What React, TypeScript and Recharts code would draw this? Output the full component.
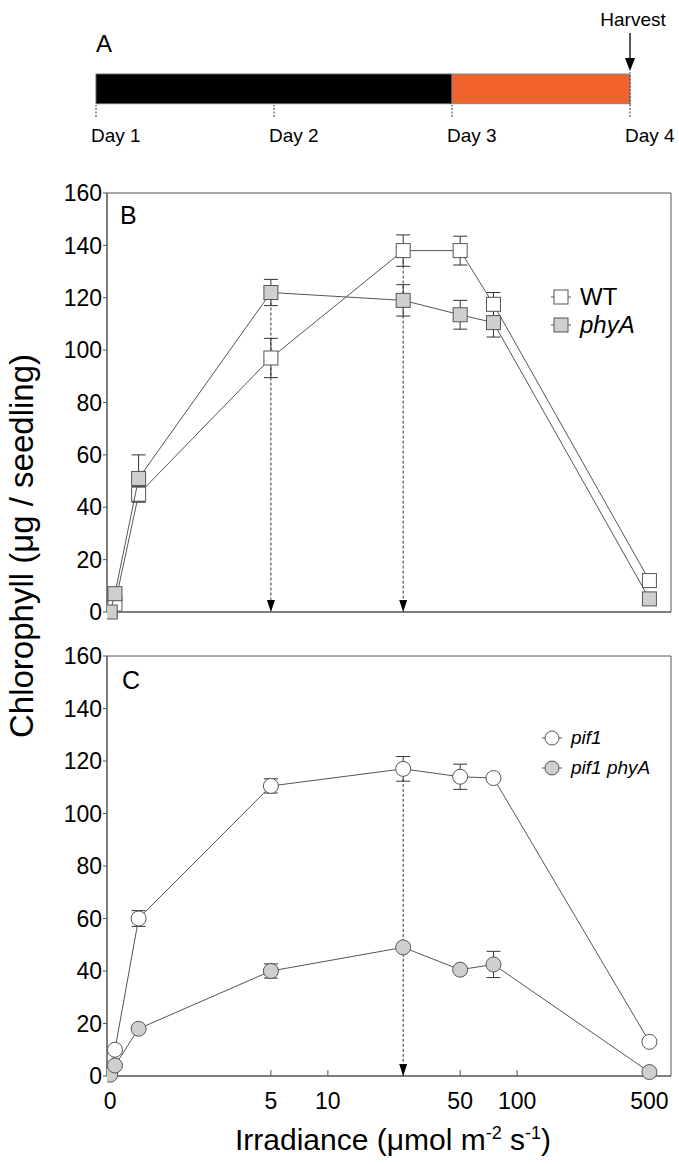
import React from "react"
import {
  Bar,
  BarChart,
  ErrorBar,
  ReferenceArea,
  ReferenceDot,
  ReferenceLine,
  Scatter,
  ScatterChart,
  XAxis,
  YAxis,
} from "recharts"

const FONT = "'Liberation Sans', Arial, sans-serif"
const INK = "#555"
const GREY = "#cfcfcf"

// Panel A: light schedule
const dayLabels = ["Day 1", "Day 2", "Day 3", "Day 4"]
const dayTicks = [0, 1, 2, 3]
const darkDays = 2
const lightDays = 1
const harvestDay = 3

// irradiance, µmol m-2 s-1
const irradiance = [0, 0.1, 1, 5, 25, 50, 75, 500]
const xTickValues = [0, 5, 10, 50, 100, 500]
const yTicks = [0, 20, 40, 60, 80, 100, 120, 140, 160]

// Panel B
const wtMean = [1, 3, 45, 97, 138, 138, 117.5, 12]
const wtErr = [0, 0, 3, 7.5, 6, 5.5, 4.5, 0]
const phyAMean = [0, 7, 51, 122, 119, 113.5, 110.5, 5]
const phyAErr = [0, 0, 9, 5, 6, 5.5, 5.5, 0]

// Panel C
const pif1Mean = [1, 10, 60, 110.5, 117, 114, 113.5, 13]
const pif1Err = [0, 0, 3, 2.7, 4.7, 4.8, 0, 0]
const pif1PhyAMean = [0.5, 4, 18, 40, 49, 40.5, 42.5, 1.5]
const pif1PhyAErr = [0, 0, 0, 2.7, 0, 0, 5, 0]

// axis is log10 above 1, with a short linear stretch for the dark / very low points
const toAxis = (v: number) => (v >= 1 ? Math.log10(v) : -0.15 + 0.25 * v)
const xDomain: [number, number] = [-0.167, 2.813]
const xTicks = xTickValues.map(toAxis)
const xTickLabel = (v: number) => {
  const i = xTicks.findIndex((t) => Math.abs(t - v) < 1e-9)
  return i >= 0 ? String(xTickValues[i]) : ""
}

const rows = (means: number[], errs: number[]) =>
  irradiance.map((v, i) => ({ x: toAxis(v), y: means[i], err: errs[i] }))

const squareShape = (fill: string) => (p: any) => (
  <rect x={p.cx - 7} y={p.cy - 7} width={14} height={14} fill={fill} stroke={INK} strokeWidth={1} />
)
const circleShape = (fill: string) => (p: any) => (
  <circle cx={p.cx} cy={p.cy} r={7.5} fill={fill} stroke={INK} strokeWidth={1} />
)
const arrowHead = (p: any) => (
  <polygon points={`${p.cx - 4},${p.cy - 12} ${p.cx + 4},${p.cy - 12} ${p.cx},${p.cy}`} fill="#000" />
)

type Series = { name: string; data: any[]; fill: string; kind: "square" | "circle" }

function LegendBox({
  series,
  fontSize,
  rowH,
  left,
  top,
}: {
  series: Series[]
  fontSize: number
  rowH: number
  left: number
  top: number
}) {
  return (
    <div style={{ position: "absolute", left, top }}>
      {series.map((s) => (
        <div key={s.name} style={{ display: "flex", alignItems: "center", height: rowH }}>
          <svg width={22} height={18}>
            <line x1={1} y1={9} x2={21} y2={9} stroke={INK} />
            {s.kind === "square" ? (
              <rect x={4} y={2} width={14} height={14} fill={s.fill} stroke={INK} />
            ) : (
              <circle cx={11} cy={9} r={7} fill={s.fill} stroke={INK} />
            )}
          </svg>
          <span
            style={{
              marginLeft: 8,
              fontSize,
              lineHeight: `${rowH}px`,
              fontStyle: s.name === "WT" ? "normal" : "italic",
            }}
          >
            {s.name}
          </span>
        </div>
      ))}
    </div>
  )
}

function Timeline() {
  return (
    <div style={{ position: "absolute", left: 0, top: 0 }}>
      <div style={{ position: "absolute", left: 96, top: 30, fontSize: 24 }}>A</div>
      <BarChart
        width={679}
        height={150}
        layout="vertical"
        data={[{ row: "light", dark: darkDays, light: lightDays }]}
        margin={{ top: 72, right: 49, bottom: 0, left: 96 }}
        barCategoryGap={0}
      >
        <XAxis
          type="number"
          domain={[0, 3]}
          ticks={dayTicks}
          axisLine={false}
          tickSize={12}
          tickMargin={12}
          height={45}
          tickLine={{ stroke: "#333", strokeDasharray: "2 1.5" }}
          tick={(p: any) => (
            <text x={p.x - 5} y={p.y} dy="0.71em" textAnchor="start" fontSize={19} fill="#000">
              {dayLabels[dayTicks.indexOf(p.payload.value)]}
            </text>
          )}
        />
        <YAxis type="category" dataKey="row" hide width={0} />
        <Bar dataKey="dark" stackId="t" fill="#000" stroke="#666" barSize={33} isAnimationActive={false} />
        <Bar dataKey="light" stackId="t" fill="#f1632d" stroke="#888" barSize={33} isAnimationActive={false} />
        <ReferenceLine
          x={harvestDay}
          stroke="#333"
          strokeDasharray="2 1.5"
          label={(p: any) => {
            const vb = p.viewBox
            return (
              <g>
                <text x={vb.x + 3} y={vb.y - 46} textAnchor="middle" fontSize={19} fill="#000">
                  Harvest
                </text>
                <line x1={vb.x} y1={vb.y - 39} x2={vb.x} y2={vb.y - 12} stroke="#000" strokeWidth={1.3} />
                <polygon points={`${vb.x - 5},${vb.y - 14} ${vb.x + 5},${vb.y - 14} ${vb.x},${vb.y - 1}`} fill="#000" />
              </g>
            )
          }}
        />
      </BarChart>
    </div>
  )
}

function Panel({
  top,
  height,
  bottom,
  xAxisHeight,
  series,
  arrows,
  label,
  labelOffset,
  showXLabels,
}: {
  top: number
  height: number
  bottom: number
  xAxisHeight: number
  series: Series[]
  arrows: { x: number; from: number }[]
  label: string
  labelOffset: number
  showXLabels: boolean
}) {
  const pad = 16
  return (
    <div style={{ position: "absolute", left: 0, top: top - pad }}>
      <ScatterChart width={679} height={height + pad} margin={{ top: pad, right: 8, bottom, left: 47 }}>
        <XAxis
          type="number"
          dataKey="x"
          domain={xDomain}
          ticks={xTicks}
          allowDataOverflow
          height={xAxisHeight}
          stroke={INK}
          tickSize={-6}
          tickMargin={23}
          tickFormatter={xTickLabel}
          tick={showXLabels ? { fontSize: 23, fill: "#000" } : false}
        />
        <YAxis
          type="number"
          dataKey="y"
          domain={[0, 160]}
          ticks={yTicks}
          width={60}
          stroke={INK}
          tickSize={4}
          tickMargin={1}
          tick={{ fontSize: 23, fill: "#000" }}
        />
        <ReferenceArea
          x1={xDomain[0]}
          x2={xDomain[1]}
          y1={0}
          y2={160}
          fill="none"
          stroke={INK}
          label={{ value: label, position: "insideTopLeft", offset: labelOffset, fontSize: 25, fill: "#000" }}
        />
        {arrows.map((a) => (
          <ReferenceLine
            key={`l${a.x}`}
            segment={[
              { x: toAxis(a.x), y: a.from },
              { x: toAxis(a.x), y: 0 },
            ]}
            stroke="#333"
            strokeDasharray="3 2"
          />
        ))}
        {arrows.map((a) => (
          <ReferenceDot key={`d${a.x}`} x={toAxis(a.x)} y={0} r={0} shape={arrowHead} />
        ))}
        {series.map((s) => (
          <Scatter
            key={s.name}
            name={s.name}
            data={s.data}
            line={{ stroke: INK, strokeWidth: 1 }}
            shape={s.kind === "square" ? squareShape(s.fill) : circleShape(s.fill)}
            isAnimationActive={false}
          >
            <ErrorBar dataKey="err" direction="y" width={7} stroke="#333" strokeWidth={1} />
          </Scatter>
        ))}
      </ScatterChart>
    </div>
  )
}

export default function App() {
  const seriesB: Series[] = [
    { name: "WT", data: rows(wtMean, wtErr), fill: "#fff", kind: "square" },
    { name: "phyA", data: rows(phyAMean, phyAErr), fill: GREY, kind: "square" },
  ]
  const seriesC: Series[] = [
    { name: "pif1", data: rows(pif1Mean, pif1Err), fill: "#fff", kind: "circle" },
    { name: "pif1 phyA", data: rows(pif1PhyAMean, pif1PhyAErr), fill: GREY, kind: "circle" },
  ]

  return (
    <div
      style={{
        position: "absolute",
        left: 0,
        top: 0,
        width: 679,
        height: 1164,
        background: "#fff",
        fontFamily: FONT,
        color: "#000",
      }}
    >
      <Timeline />
      <Panel
        top={193}
        height={447}
        bottom={8}
        xAxisHeight={20}
        series={seriesB}
        arrows={[
          { x: 5, from: phyAMean[3] },
          { x: 25, from: wtMean[4] },
        ]}
        label="B"
        labelOffset={13}
        showXLabels={false}
      />
      <Panel
        top={656}
        height={508}
        bottom={28}
        xAxisHeight={60}
        series={seriesC}
        arrows={[{ x: 25, from: pif1Mean[4] }]}
        label="C"
        labelOffset={15}
        showXLabels={true}
      />
      <LegendBox series={seriesB} fontSize={24} rowH={28} left={550} top={283} />
      <LegendBox series={seriesC} fontSize={19} rowH={30} left={541} top={723} />
      <div
        style={{
          position: "absolute",
          left: 22 - 250,
          top: 546 - 20,
          width: 500,
          height: 40,
          lineHeight: "40px",
          textAlign: "center",
          fontSize: 33,
          transform: "rotate(-90deg)",
        }}
      >
        Chlorophyll (μg / seedling)
      </div>
      <div
        style={{
          position: "absolute",
          left: 393 - 250,
          top: 1140 - 18,
          width: 500,
          height: 36,
          lineHeight: "36px",
          textAlign: "center",
          fontSize: 30,
        }}
      >
        Irradiance (μmol m<sup style={{ fontSize: 18, lineHeight: 0 }}>-2</sup> s
        <sup style={{ fontSize: 18, lineHeight: 0 }}>-1</sup>)
      </div>
    </div>
  )
}
